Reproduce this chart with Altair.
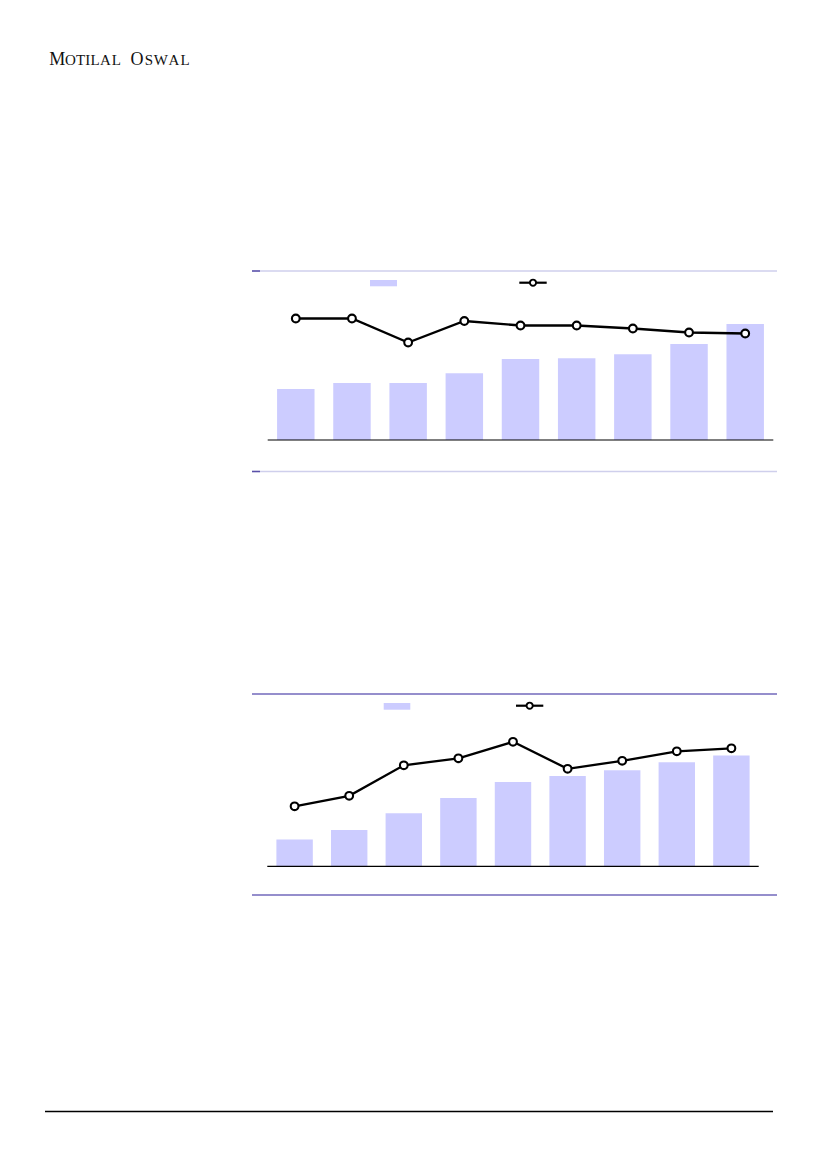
import altair as alt
import pandas as pd

OFF = 8  # page margin of the html body

# ---- data (no labels visible, units arbitrary) ----
categories = ["FY17", "FY18", "FY19", "FY20", "FY21", "FY22", "FY23", "FY24E", "FY25E"]
c1_bars = [51, 57, 57, 66.7, 81, 81.7, 85.7, 96, 116]
c1_line = [24.3, 24.3, 19.5, 23.8, 22.9, 22.9, 22.3, 21.5, 21.3]
c2_bars = [26.7, 36.3, 53, 68.3, 84.3, 90.3, 96, 104, 110.7]
c2_line = [12.0, 14.1, 20.2, 21.6, 24.9, 19.5, 21.1, 23.0, 23.6]

BAR_COLOR = "#ccccff"
ONE = pd.DataFrame({"k": [0]})


def P(v):
    return v - OFF


def rule(x1, x2, y, color, width=1.0):
    return alt.Chart(ONE).mark_rule(color=color, strokeWidth=width).encode(
        x=alt.value(P(x1)), x2=alt.value(P(x2)), y=alt.value(P(y))
    )


def combo(bars, line, xr, yb, yt):
    df = pd.DataFrame({"cat": categories, "bar": bars, "line": line})
    xs = alt.X("cat:N", sort=categories, axis=None,
               scale=alt.Scale(range=[P(xr[0]), P(xr[1])], paddingInner=0.333, paddingOuter=0.1667))
    base = alt.Chart(df)
    b = base.mark_bar(color=BAR_COLOR).encode(
        x=xs,
        y=alt.Y("bar:Q", axis=None, scale=alt.Scale(domain=[0, 170], range=[P(yb), P(yt)])),
    )
    ly = alt.Y("line:Q", axis=None, scale=alt.Scale(domain=[0, 34], range=[P(yb), P(yt)]))
    ln = base.mark_line(color="black", strokeWidth=2.3).encode(x=xs, y=ly)
    pt = base.mark_point(shape="circle", filled=True, fill="white", stroke="black",
                         strokeWidth=2.1, size=60, opacity=1).encode(x=xs, y=ly)
    return [b, ln, pt]


def legend(rx1, rx2, ry1, ry2, lx1, lx2, ly):
    sw = alt.Chart(ONE).mark_rect(color=BAR_COLOR).encode(
        x=alt.value(P(rx1)), x2=alt.value(P(rx2)), y=alt.value(P(ry1)), y2=alt.value(P(ry2))
    )
    ln = rule(lx1, lx2, ly, "black", 2.2)
    cp = alt.Chart(ONE).mark_point(shape="circle", filled=True, fill="white", stroke="black",
                                   strokeWidth=1.9, size=38, opacity=1).encode(
        x=alt.value(P((lx1 + lx2) / 2)), y=alt.value(P(ly))
    )
    return [sw, ln, cp]


layers = []

# logo (small caps composed letter by letter)
logo = [("M", 57.3, 18), ("O", 70.3, 15), ("T", 80.7, 15), ("I", 87.8, 15), ("L", 95, 15),
        ("A", 105.3, 15), ("L", 116.3, 15), ("O", 137, 18), ("S", 148.8, 15), ("W", 160.8, 15),
        ("A", 174, 15), ("L", 185, 15)]
for ch, cx, fs in logo:
    layers.append(alt.Chart(ONE).mark_text(text=ch, font="Liberation Serif", fontSize=fs,
                                           align="center", baseline="alphabetic", color="#111111")
                  .encode(x=alt.value(P(cx)), y=alt.value(P(64.5))))

# chart 1
layers.append(rule(252, 777, 271, "#cfcfec", 1.5))
layers.append(rule(252, 260, 271, "#5a50a8", 1.5))
layers.append(rule(252, 777, 471.5, "#cfcfec", 1.5))
layers.append(rule(252, 260, 471.5, "#5a50a8", 1.5))
layers += legend(370, 397, 280, 286.3, 519.3, 546.7, 282.7)
layers += combo(c1_bars, c1_line, (267.7, 773.3), 440, 270)
layers.append(rule(267.7, 773.3, 440, "black", 1.2))

# chart 2
layers.append(rule(252, 777, 694, "#7268bb", 1.5))
layers.append(rule(252, 777, 895, "#7268bb", 1.5))
layers += legend(383.7, 410.3, 703, 709.7, 516, 543.3, 705.7)
layers += combo(c2_bars, c2_line, (267.3, 758.7), 866.3, 696.3)
layers.append(rule(267.3, 758.7, 866.3, "black", 1.2))

# footer
layers.append(rule(45, 773, 1111.5, "black", 1.3))

chart = (
    alt.layer(*layers)
    .resolve_scale(x="independent", y="independent")
    .properties(width=800, height=1140, padding=0, autosize=alt.AutoSizeParams(type="none"))
    .configure_view(stroke=None)
)

chart.save("out.html", embed_options={"renderer": "svg", "actions": False})
